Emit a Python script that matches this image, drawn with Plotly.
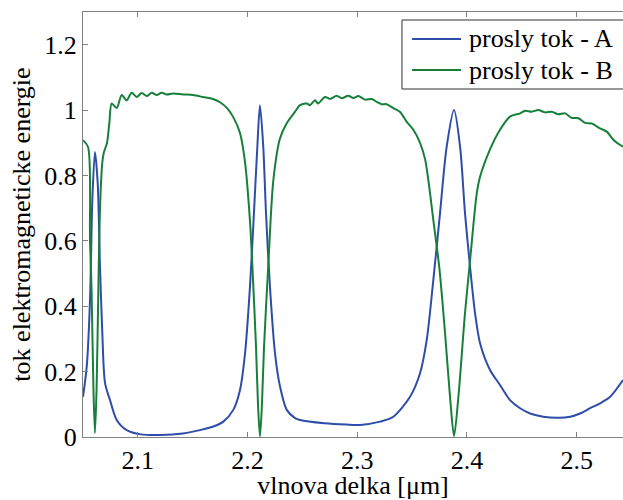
import plotly.graph_objects as go

# wavelength [um] and transmitted flux values
x_a = [2.0500, 2.0534, 2.0564, 2.0585, 2.0609, 2.0634, 2.0655, 2.0676, 2.0701, 2.0746,
       2.0807, 2.0898, 2.1026, 2.1208, 2.1412, 2.1567, 2.1688, 2.1779, 2.1870, 2.1931,
       2.1977, 2.2022, 2.2058, 2.2089, 2.2113, 2.2143, 2.2168, 2.2204, 2.2250, 2.2296,
       2.2357, 2.2433, 2.2478, 2.2700, 2.2900, 2.3026, 2.3208, 2.3329, 2.3481, 2.3572,
       2.3633, 2.3693, 2.3754, 2.3815, 2.3882, 2.3937, 2.3982, 2.4028, 2.4073, 2.4119,
       2.4210, 2.4301, 2.4392, 2.4484, 2.4575, 2.4696, 2.4833, 2.4940, 2.5031, 2.5122,
       2.5213, 2.5305, 2.5422]
y_a = [0.123, 0.215, 0.420, 0.725, 0.872, 0.777, 0.520, 0.318, 0.165, 0.113,
       0.052, 0.021, 0.008, 0.006, 0.011, 0.021, 0.032, 0.047, 0.083, 0.144,
       0.256, 0.460, 0.684, 0.888, 1.015, 0.888, 0.685, 0.460, 0.256, 0.154,
       0.083, 0.058, 0.052, 0.042, 0.038, 0.037, 0.047, 0.062, 0.123, 0.195,
       0.297, 0.480, 0.684, 0.888, 1.000, 0.888, 0.684, 0.520, 0.380, 0.287,
       0.205, 0.159, 0.113, 0.088, 0.072, 0.062, 0.059, 0.062, 0.072, 0.088,
       0.103, 0.123, 0.174]

x_b = [2.0500, 2.0546, 2.0564, 2.0578, 2.0595, 2.0609, 2.0624, 2.0640, 2.0655, 2.0676,
       2.0690, 2.0719, 2.0740, 2.0762, 2.0807, 2.0853, 2.0898, 2.0944, 2.0990, 2.1035,
       2.1081, 2.1126, 2.1172, 2.1217, 2.1263, 2.1320, 2.1412, 2.1503, 2.1594, 2.1685,
       2.1749, 2.1813, 2.1867, 2.1931, 2.1977, 2.2022, 2.2047, 2.2077, 2.2095, 2.2113,
       2.2131, 2.2150, 2.2189, 2.2235, 2.2296, 2.2357, 2.2433, 2.2478, 2.2539, 2.2569,
       2.2615, 2.2642, 2.2706, 2.2752, 2.2813, 2.2858, 2.2918, 2.2964, 2.3010, 2.3071,
       2.3132, 2.3177, 2.3223, 2.3268, 2.3329, 2.3390, 2.3451, 2.3511, 2.3572, 2.3618,
       2.3650, 2.3693, 2.3748, 2.3800, 2.3846, 2.3882, 2.3921, 2.3982, 2.4028, 2.4089,
       2.4119, 2.4210, 2.4301, 2.4392, 2.4484, 2.4529, 2.4590, 2.4651, 2.4711, 2.4773,
       2.4833, 2.4894, 2.4955, 2.5015, 2.5076, 2.5137, 2.5213, 2.5274, 2.5338, 2.5422]
y_b = [0.908, 0.887, 0.600, 0.450, 0.150, 0.012, 0.150, 0.450, 0.700, 0.840,
       0.870, 0.900, 0.960, 1.020, 1.006, 1.046, 1.030, 1.053, 1.040, 1.052,
       1.043, 1.053, 1.046, 1.053, 1.048, 1.051, 1.048, 1.046, 1.040, 1.034,
       1.024, 1.006, 0.980, 0.930, 0.840, 0.660, 0.500, 0.275, 0.100, 0.002,
       0.100, 0.275, 0.526, 0.786, 0.914, 0.960, 0.995, 1.015, 1.020, 1.015,
       1.030, 1.020, 1.040, 1.034, 1.044, 1.036, 1.044, 1.037, 1.043, 1.032,
       1.034, 1.025, 1.018, 1.018, 1.006, 0.994, 0.964, 0.940, 0.900, 0.850,
       0.780, 0.664, 0.517, 0.318, 0.120, 0.003, 0.120, 0.380, 0.540, 0.745,
       0.796, 0.880, 0.940, 0.980, 0.990, 0.998, 0.995, 1.000, 0.993, 0.995,
       0.987, 0.990, 0.976, 0.975, 0.961, 0.959, 0.944, 0.934, 0.908, 0.888]

name_a = "prosly tok - A"
name_b = "prosly tok - B"
x_title = "vlnova delka [μm]"
y_title = "tok elektromagneticke energie"

FONT = "Liberation Serif, Times New Roman, serif"
COLOR_A = "#2E4DA8"
COLOR_B = "#16803A"

fig = go.Figure()
fig.add_trace(go.Scatter(x=x_a, y=y_a, mode="lines", name=name_a, showlegend=False,
                         line=dict(color=COLOR_A, width=2, shape="spline", smoothing=0.8)))
fig.add_trace(go.Scatter(x=x_b, y=y_b, mode="lines", name=name_b, showlegend=False,
                         line=dict(color=COLOR_B, width=2, shape="spline", smoothing=0.8)))

axis_common = dict(showgrid=False, zeroline=False, showline=True,
                   linecolor="#808080", linewidth=1, ticks="inside",
                   ticklen=5, tickcolor="#808080",
                   tickfont=dict(family=FONT, size=26, color="black"))

# legend drawn as a framed box (paper coordinates), cut by the right edge like the reference
legend_rows = [(name_a, COLOR_A, 0.9365), (name_b, COLOR_B, 0.8635)]
shapes = [dict(type="rect", xref="paper", yref="paper", x0=0.5907, x1=1.05, y0=0.8188, y1=0.9812,
               line=dict(color="#303030", width=1), fillcolor="white", layer="above")]
annotations = []
for label, col, yy in legend_rows:
    shapes.append(dict(type="line", xref="paper", yref="paper", x0=0.6093, x1=0.70, y0=yy, y1=yy,
                       line=dict(color=col, width=2), layer="above"))
    annotations.append(dict(xref="paper", yref="paper", x=0.7111, y=yy, xanchor="left",
                            yanchor="middle", text=label, showarrow=False,
                            font=dict(family=FONT, size=26, color="black")))

fig.update_layout(
    width=623, height=500,
    margin=dict(l=83, r=0, t=12, b=63),
    paper_bgcolor="white", plot_bgcolor="white",
    font=dict(family=FONT, size=26, color="black"),
    xaxis=dict(range=[2.05, 2.5422], tick0=2.1, dtick=0.1, mirror="ticks",
               title=dict(text=x_title, font=dict(family=FONT, size=26), standoff=4),
               **axis_common),
    yaxis=dict(range=[0, 1.3], tick0=0, dtick=0.2, mirror=False,
               title=dict(text=y_title, font=dict(family=FONT, size=26), standoff=6),
               **axis_common),
    shapes=shapes,
    annotations=annotations,
    showlegend=False,
)

fig.write_html("out.html")
